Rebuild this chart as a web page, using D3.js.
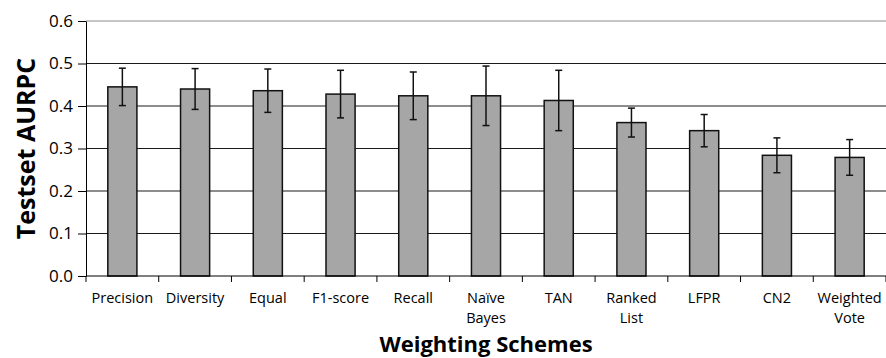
<!DOCTYPE html>
<html>
<head>
<meta charset="utf-8">
<script src="https://cdn.jsdelivr.net/npm/d3@7/dist/d3.min.js"></script>
<style>
  html, body { margin: 0; padding: 0; background: #fff; }
  svg { display: block; }
  text { font-family: "Open Sans", "Noto Sans", sans-serif; fill: #000; }
</style>
</head>
<body>
<svg id="chart" width="886" height="358"></svg>
<script>
// Weighting schemes and their mean test-set AURPC with error half-widths
const schemes = ["Precision", "Diversity", "Equal", "F1-score", "Recall", "Naïve Bayes",
                 "TAN", "Ranked List", "LFPR", "CN2", "Weighted Vote"];
const aurpc = [0.445, 0.440, 0.436, 0.428, 0.424, 0.424, 0.413, 0.361, 0.342, 0.284, 0.279];
const errHalf = [0.044, 0.048, 0.051, 0.056, 0.056, 0.070, 0.071, 0.034, 0.038, 0.041, 0.042];
const yTicks = [0, 0.1, 0.2, 0.3, 0.4, 0.5, 0.6];

const svg = d3.select("#chart");
const margin = { top: 21, right: 0, bottom: 82, left: 86 };
const W = 886, H = 358;

const x = d3.scaleBand()
  .domain(schemes)
  .range([margin.left, W - margin.right])
  .paddingInner(0.6)
  .paddingOuter(0.3);

const y = d3.scaleLinear()
  .domain([0, 0.6])
  .range([H - margin.bottom, margin.top]);

// Horizontal gridlines
svg.append("g")
  .selectAll("line")
  .data(yTicks.filter(d => d > 0))
  .join("line")
  .attr("x1", margin.left)
  .attr("x2", W - margin.right)
  .attr("y1", d => y(d))
  .attr("y2", d => y(d))
  .attr("stroke", d => d === 0.6 ? "#8c8c8c" : "#1a1a1a")
  .attr("stroke-width", 1);

// Y axis
const yAxis = d3.axisLeft(y)
  .tickValues(yTicks)
  .tickFormat(d3.format(".1f"))
  .tickSizeInner(8)
  .tickSizeOuter(0)
  .tickPadding(5);
const gy = svg.append("g")
  .attr("transform", `translate(${margin.left},0)`)
  .call(yAxis);
gy.attr("font-size", null).attr("font-family", null);
gy.select(".domain").attr("stroke", "#000");
gy.selectAll(".tick line").attr("stroke", "#000");
gy.selectAll(".tick text")
  .style("font-size", "17px")
  .attr("fill", "#000");

// Bars
svg.append("g")
  .selectAll("rect")
  .data(schemes)
  .join("rect")
  .attr("x", d => x(d))
  .attr("width", x.bandwidth())
  .attr("y", (d, i) => y(aurpc[i]))
  .attr("height", (d, i) => y(0) - y(aurpc[i]))
  .attr("fill", "#a6a6a6")
  .attr("stroke", "#111")
  .attr("stroke-width", 1.5);

// Error bars
const cap = 3.5;
const eb = svg.append("g")
  .selectAll("g")
  .data(schemes)
  .join("g")
  .attr("stroke", "#111")
  .attr("stroke-width", 1.5);
eb.append("line")
  .attr("x1", d => x(d) + x.bandwidth() / 2)
  .attr("x2", d => x(d) + x.bandwidth() / 2)
  .attr("y1", (d, i) => y(aurpc[i] + errHalf[i]))
  .attr("y2", (d, i) => y(aurpc[i] - errHalf[i]));
eb.append("line")
  .attr("x1", d => x(d) + x.bandwidth() / 2 - cap)
  .attr("x2", d => x(d) + x.bandwidth() / 2 + cap)
  .attr("y1", (d, i) => y(aurpc[i] + errHalf[i]))
  .attr("y2", (d, i) => y(aurpc[i] + errHalf[i]));
eb.append("line")
  .attr("x1", d => x(d) + x.bandwidth() / 2 - cap)
  .attr("x2", d => x(d) + x.bandwidth() / 2 + cap)
  .attr("y1", (d, i) => y(aurpc[i] - errHalf[i]))
  .attr("y2", (d, i) => y(aurpc[i] - errHalf[i]));

// Baseline and category boundary ticks
const step = x.step();
const boundaries = schemes.map(d => x(d) - step * 0.3).concat([x(schemes[schemes.length - 1]) + x.bandwidth() + step * 0.3]);
svg.append("line")
  .attr("x1", margin.left).attr("x2", W - margin.right)
  .attr("y1", y(0)).attr("y2", y(0))
  .attr("stroke", "#000").attr("stroke-width", 1);
svg.append("g")
  .selectAll("line")
  .data(boundaries)
  .join("line")
  .attr("x1", d => d).attr("x2", d => d)
  .attr("y1", y(0)).attr("y2", y(0) + 6)
  .attr("stroke", "#000");

// Category labels (two-word names wrap onto two lines)
const labels = svg.append("g")
  .selectAll("text")
  .data(schemes)
  .join("text")
  .attr("text-anchor", "middle")
  .attr("x", d => x(d) + x.bandwidth() / 2)
  .attr("y", y(0) + 27)
  .style("font-size", "14.5px");
labels.each(function (d) {
  const words = d.split(" ");
  const t = d3.select(this);
  words.forEach((w, k) => {
    t.append("tspan")
      .attr("x", x(d) + x.bandwidth() / 2)
      .attr("dy", k === 0 ? 0 : 20)
      .text(w);
  });
});

// Axis titles
svg.append("text")
  .attr("text-anchor", "middle")
  .attr("transform", `translate(35,${(margin.top + y(0)) / 2}) rotate(-90)`)
  .style("font-size", "25px")
  .style("font-weight", "bold")
  .text("Testset AURPC");

svg.append("text")
  .attr("text-anchor", "middle")
  .attr("x", (margin.left + W - margin.right) / 2)
  .attr("y", 352)
  .style("font-size", "22px")
  .style("font-weight", "bold")
  .text("Weighting Schemes");
</script>
</body>
</html>
